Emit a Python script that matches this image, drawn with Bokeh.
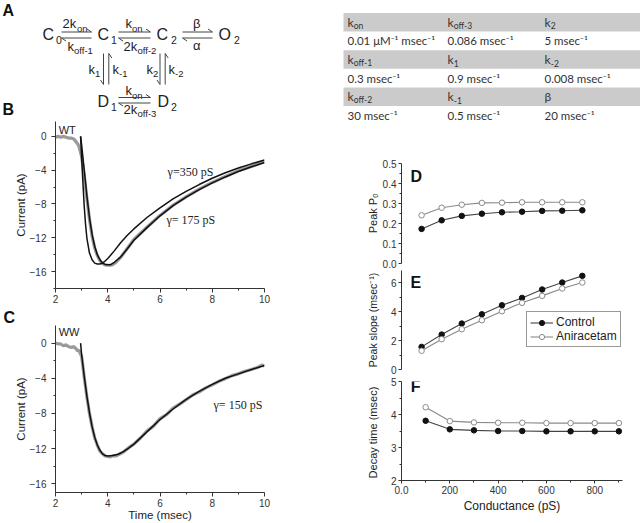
from bokeh.plotting import figure
from bokeh.layouts import column, row
from bokeh.models import Range1d, FixedTicker, Label, Legend, LegendItem
from bokeh.embed import file_html
from bokeh.resources import INLINE
from bokeh.core.properties import value

# ---------------- data ----------------
# Panel B (WT): grey = recorded trace, black = model (two conductances)
t_wt_data = [2.0, 2.1, 2.2, 2.3, 2.4, 2.5, 2.6, 2.7, 2.75, 2.8, 2.85, 2.9, 2.95, 3.0, 3.1, 3.2, 3.3,
             3.4, 3.5, 3.6, 3.7, 3.8, 3.9, 4.0, 4.1, 4.2, 4.3, 4.5, 5.0, 5.5, 6.0, 6.5, 7.0, 7.5,
             8.0, 8.5, 9.0, 9.5, 10.0]
i_wt_data = [-0.1, 0.0, -0.1, 0.0, -0.1, -0.2, -0.2, -0.3, -0.5, -0.7, -0.9, -1.2, -1.8, -2.4,
             -4.6, -7.3, -9.8, -11.8, -13.2, -14.1, -14.7, -15.05, -15.2, -15.25, -15.25, -15.15,
             -14.95, -14.3, -12.2, -10.75, -9.35, -8.15, -7.15, -6.25, -5.45, -4.75, -4.05, -3.55, -3.0]
t_wt_350 = [2.96, 3.0, 3.05, 3.1, 3.15, 3.2, 3.3, 3.4, 3.5, 3.6, 3.7, 3.8, 3.9, 4.0, 4.1, 4.25,
            4.5, 4.75, 5.0, 5.5, 6.0, 6.5, 7.0, 7.5, 8.0, 8.5, 9.0, 9.5, 10.0]
i_wt_350 = [0.0, -2.5, -5.5, -8.3, -10.4, -12.0, -13.8, -14.6, -15.0, -15.1, -15.1, -15.0, -14.75,
            -14.45, -14.1, -13.55, -12.55, -11.7, -10.95, -9.6, -8.45, -7.4, -6.5, -5.7, -4.95,
            -4.3, -3.75, -3.25, -2.8]
t_wt_175 = [2.96, 3.0, 3.1, 3.2, 3.3, 3.4, 3.5, 3.6, 3.7, 3.8, 3.9, 4.0, 4.1, 4.25, 4.5, 4.75,
            5.0, 5.5, 6.0, 6.5, 7.0, 7.5, 8.0, 8.5, 9.0, 9.5, 10.0]
i_wt_175 = [0.0, -1.0, -4.0, -7.0, -9.6, -11.6, -13.0, -14.0, -14.6, -15.0, -15.15, -15.2, -15.2,
            -14.9, -14.25, -13.3, -12.3, -10.8, -9.4, -8.2, -7.2, -6.3, -5.5, -4.8, -4.15, -3.6, -3.1]

# Panel C (WW)
t_ww_data = [2.0, 2.1, 2.2, 2.3, 2.4, 2.5, 2.6, 2.7, 2.8, 2.85, 2.9, 2.95, 3.0, 3.1, 3.2, 3.3, 3.4,
             3.5, 3.6, 3.7, 3.8, 3.9, 4.0, 4.1, 4.2, 4.3, 4.4, 4.6, 4.8, 5.0, 5.25, 5.5, 5.75, 6.0,
             6.25, 6.5, 6.75, 7.0, 7.25, 7.5, 7.75, 8.0, 8.25, 8.5, 8.75, 9.0, 9.25, 9.5, 9.75,
             9.9, 10.0]
i_ww_data = [0.0, -0.1, -0.1, -0.3, -0.2, -0.4, -0.5, -0.4, -0.7, -0.9, -0.8, -1.2, -1.5, -3.9,
             -6.1, -8.0, -9.5, -10.8, -11.6, -12.3, -12.6, -12.85, -12.9, -12.95, -12.8, -12.85,
             -12.7, -12.4, -11.9, -11.5, -10.8, -10.0, -9.45, -8.6, -8.15, -7.4, -6.95, -6.45,
             -5.9, -5.55, -5.1, -4.75, -4.35, -4.05, -3.7, -3.5, -3.2, -3.0, -2.75, -2.5, -2.6]
t_ww_fit = [2.96, 3.0, 3.1, 3.2, 3.3, 3.4, 3.5, 3.6, 3.7, 3.8, 3.9, 4.0, 4.2, 4.4, 4.6, 4.8, 5.0,
            5.5, 6.0, 6.5, 7.0, 7.5, 8.0, 8.5, 9.0, 9.5, 10.0]
i_ww_fit = [0.0, -1.3, -3.8, -6.0, -7.9, -9.5, -10.7, -11.6, -12.2, -12.6, -12.8, -12.85, -12.8,
            -12.65, -12.35, -11.95, -11.5, -10.1, -8.7, -7.5, -6.4, -5.5, -4.7, -4.0, -3.5, -3.0,
            -2.55]

# Panels D-F
conductance = [100, 200, 300, 400, 500, 600, 700, 800, 900]
po_control = [0.173, 0.216, 0.238, 0.249, 0.256, 0.259, 0.263, 0.264, 0.266]
po_anira = [0.241, 0.279, 0.294, 0.303, 0.304, 0.306, 0.306, 0.306, 0.306]
slope_control = [1.56, 2.41, 3.17, 3.81, 4.43, 4.94, 5.52, 6.00, 6.46]
slope_anira = [1.29, 2.09, 2.78, 3.40, 4.02, 4.60, 5.08, 5.59, 6.00]
decay_control = [3.81, 3.55, 3.52, 3.50, 3.50, 3.49, 3.49, 3.49, 3.49]
decay_anira = [4.22, 3.80, 3.76, 3.75, 3.75, 3.74, 3.74, 3.74, 3.74]
series_names = ["Control", "Aniracetam"]

# Rate-constant table (key|subscript, value)
tbl_keys = [["k|on", "k|off-3", "k|2"],
            ["k|off-1", "k|1", "k|-2"],
            ["k|off-2", "k|-1", "β|"]]
tbl_vals = [["0.01 μM⁻¹ msec⁻¹", "0.086 msec⁻¹", "5 msec⁻¹"],
            ["0.3 msec⁻¹", "0.9 msec⁻¹", "0.008 msec⁻¹"],
            ["30 msec⁻¹", "0.5 msec⁻¹", "20 msec⁻¹"]]

# Kinetic scheme texts
state_main = ["C", "C", "C", "O", "D", "D"]
state_sub = ["0", "1", "2", "2", "1", "2"]
rate_main = ["2k", "k", "k", "2k", "β", "α", "k", "k", "k", "k", "k", "2k"]
rate_sub = ["on", "off-1", "on", "off-2", "", "", "1", "-1", "2", "-2", "on", "off-3"]

# ---------------- helpers ----------------
FONT = "Liberation Sans"
INK = "#222222"
AX = "#333333"


def make_fig(w, h, xr, yr, bl, br, bt, bb, xaxis=True, yaxis=True):
    p = figure(width=w, height=h, x_range=xr, y_range=yr,
               output_backend="svg", toolbar_location=None,
               x_axis_location="below" if xaxis else None,
               y_axis_location="left" if yaxis else None,
               min_border_left=bl, min_border_right=br,
               min_border_top=bt, min_border_bottom=bb)
    p.outline_line_color = None
    p.background_fill_color = None
    p.border_fill_color = None
    p.grid.visible = False
    return p


def style_axis(ax, tick_size="10px", label_size="11.5px", tick_out=4, label_standoff=5,
               axis_standoff=5):
    ax.axis_line_color = AX
    ax.major_tick_line_color = AX
    ax.minor_tick_line_color = AX
    ax.major_tick_out = tick_out
    ax.major_tick_in = 0
    ax.minor_tick_out = 2
    ax.minor_tick_in = 0
    ax.major_label_text_font = FONT
    ax.major_label_text_font_size = tick_size
    ax.major_label_text_color = AX
    ax.major_label_standoff = label_standoff
    ax.axis_label_text_font = FONT
    ax.axis_label_text_font_size = label_size
    ax.axis_label_text_font_style = "normal"
    ax.axis_label_text_color = INK
    ax.axis_label_standoff = axis_standoff


def put_text(p, xs, ys, texts, size, align="left", font=FONT, style="normal", color=INK):
    p.text(x=xs, y=ys, text=texts, text_font=value(font), text_font_size=value(size),
           text_font_style=style, text_align=align, text_baseline="middle", text_color=color)


def letter(p, x, y, txt):
    p.add_layout(Label(x=x, y=y, text=txt, text_font=FONT, text_font_size="16px",
                       text_font_style="bold", text_color="#111111", text_align="left",
                       text_baseline="middle"))


W, H = 640, 523
LW = 325            # left block width
RW = W - LW         # right block width
TOP = 121           # height of the top strip (scheme + table)

# ---------------- Panel A: kinetic scheme ----------------
pA = make_fig(LW, TOP, Range1d(0, LW), Range1d(TOP, 0), 0, 0, 0, 0, xaxis=False, yaxis=False)
state_xy = [(42, 33.5), (97, 33.5), (156, 33.5), (218, 33.5), (97, 101), (157, 101)]
state_subx = [55.5, 110.5, 170.5, 233.5, 110.5, 170.5]
put_text(pA, [q[0] for q in state_xy], [q[1] for q in state_xy], state_main, "16px")
put_text(pA, state_subx, [q[1] + 5.5 for q in state_xy], state_sub, "10.5px")
rate_xy = [(62, 23), (67, 45.5), (125, 23), (123, 45.5), (192.5, 23), (192.5, 44.5),
           (88, 68.5), (112, 68.5), (146, 68.5), (168, 68.5), (125, 90), (123, 108.5)]
rate_subx = [76.5, 73.5, 131.5, 137, 0, 0, 94.5, 118.5, 152.5, 174.5, 131.5, 137]
put_text(pA, [q[0] for q in rate_xy], [q[1] for q in rate_xy], rate_main, "13px")
sx_, sy_, st_ = [], [], []
for (x, y), sx, s in zip(rate_xy, rate_subx, rate_sub):
    if s:
        sx_.append(sx)
        sy_.append(y + 4.5)
        st_.append(s)
put_text(pA, sx_, sy_, st_, "9.5px")
put_text(pA, [2, 2], [9.5, 108.5], ["A", "B"], "16px", style="bold", color="#111111")

# harpoon arrows (x0, y0, x1, y1, barb side)
arrows = [(61, 31.5, 91, 31.5, -1), (91, 37.5, 61, 37.5, 1),
          (118, 31.5, 150, 31.5, -1), (150, 37.5, 118, 37.5, 1),
          (182, 31.5, 212, 31.5, -1), (212, 37.5, 182, 37.5, 1),
          (118, 97, 150, 97, -1), (150, 102.5, 118, 102.5, 1),
          (103, 53, 103, 84, -1), (108.3, 84, 108.3, 53, 1),
          (159.5, 53, 159.5, 84, -1), (164.7, 84, 164.7, 53, 1)]
x0s, y0s, x1s, y1s = [], [], [], []
for (a, b, c, d, side) in arrows:
    x0s.append(a); y0s.append(b); x1s.append(c); y1s.append(d)
    L = ((c - a) ** 2 + (d - b) ** 2) ** 0.5
    ux, uy = (c - a) / L, (d - b) / L
    if uy == 0:
        bx, by = c - 4.5 * ux, d + side * 3
    else:
        bx, by = c + side * 3, d - 4.5 * uy
    x0s.append(c); y0s.append(d); x1s.append(bx); y1s.append(by)
pA.segment(x0=x0s, y0=y0s, x1=x1s, y1=y1s, line_color="#444444", line_width=1)

# ---------------- Table ----------------
pT = make_fig(RW, TOP, Range1d(LW, W), Range1d(TOP, 0), 0, 0, 0, 0, xaxis=False, yaxis=False)
pitch = 18.6
band_top = [12.5, 12.5 + 2 * pitch, 12.5 + 4 * pitch]
col_x = [347, 447, 544]
pT.quad(left=[343] * 3, right=[W] * 3, top=band_top, bottom=[b + pitch for b in band_top],
        fill_color="#cbcbcb", line_color=None)
kx, ky, kt, sxs, sys, sts, vx, vy, vt = [], [], [], [], [], [], [], [], []
for r in range(3):
    yc = band_top[r] + pitch / 2
    for c in range(3):
        main, sub = tbl_keys[r][c].split("|")
        kx.append(col_x[c]); ky.append(yc); kt.append(main)
        if sub:
            sxs.append(col_x[c] + 6.3); sys.append(yc + 3.5); sts.append(sub)
        vx.append(col_x[c]); vy.append(yc + pitch); vt.append(tbl_vals[r][c])
put_text(pT, kx, ky, kt, "12px", font="Lato", color="#333333")
put_text(pT, sxs, sys, sts, "8.5px", font="Lato", color="#333333")
put_text(pT, vx, vy, vt, "11.5px", font="Lato", color="#333333")

# ---------------- Panels B and C ----------------
B_BOT = 306
BL, BR = 55, LW - 264
pB = make_fig(LW, B_BOT - TOP, Range1d(2, 10), Range1d(-18, 1.76), BL, BR, 0, B_BOT - 288)
pB.line(t_wt_data, i_wt_data, line_color="#9a9a9a", line_width=3.2)
pB.line(t_wt_350, i_wt_350, line_color="#111111", line_width=1.5)
pB.line(t_wt_175, i_wt_175, line_color="#111111", line_width=1.5)
pB.text(x=[6.29, 6.25], y=[-4.2, -9.9], text=["γ=350  pS", "γ= 175 pS"],
        text_font=value("Liberation Serif"), text_font_size=value("12px"),
        text_baseline="middle", text_color=INK)
pB.add_layout(Label(x=2.12, y=0.8, text="WT", text_font=FONT, text_font_size="11px",
                    text_color=INK, text_baseline="middle"))

pC = make_fig(LW, H - B_BOT, Range1d(2, 10), Range1d(-17, 2), BL, BR, 325 - B_BOT, H - 493)
pC.line(t_ww_data, i_ww_data, line_color="#9a9a9a", line_width=3.2)
pC.line(t_ww_fit, i_ww_fit, line_color="#111111", line_width=1.5)
pC.text(x=[8.05], y=[-7.05], text=["γ= 150 pS"], text_font=value("Liberation Serif"),
        text_font_size=value("12px"), text_baseline="middle", text_color=INK)
pC.add_layout(Label(x=2.12, y=1.3, text="WW", text_font=FONT, text_font_size="11px",
                    text_color=INK, text_baseline="middle"))
# panel letter "C" as the figure title, pulled left of the frame
pC.title.text = "C"
pC.title.align = "left"
pC.title.offset = 3 - BL
pC.title.standoff = 0
pC.title.vertical_align = "bottom"
pC.title.text_font = FONT
pC.title.text_font_size = "16px"
pC.title.text_font_style = "bold"
pC.title.text_color = "#111111"

for p, ymin in ((pB, -18), (pC, -17)):
    p.yaxis.ticker = FixedTicker(ticks=[-16, -12, -8, -4, 0],
                                 minor_ticks=[v for v in (-18, -14, -10, -6, -2) if v >= ymin])
    p.xaxis.ticker = FixedTicker(ticks=[2, 4, 6, 8, 10], minor_ticks=[3, 5, 7, 9])
    p.yaxis.axis_label = "Current (pA)"
    style_axis(p.yaxis[0], label_standoff=5, axis_standoff=0)
    style_axis(p.xaxis[0], label_standoff=2, axis_standoff=-1)
pC.xaxis.axis_label = "Time (msec)"

# ---------------- Panels D, E, F ----------------
D_BOT = 270
E_BOT = 375
bl_r = 401 - LW
br_r = W - 622
pD = make_fig(RW, D_BOT - TOP, Range1d(0, 1100), Range1d(0, 0.5), bl_r, br_r,
              163 - TOP, D_BOT - 263, xaxis=False)
pE = make_fig(RW, E_BOT - D_BOT, Range1d(0, 1100), Range1d(0, 6.83), bl_r, br_r,
              0, 6, xaxis=False)
pF = make_fig(RW, H - E_BOT, Range1d(0, 915), Range1d(2, 5), bl_r, br_r, 6, H - 480)

CTRL_LINE, ANI_LINE = "#444444", "#8a8a8a"
legend_rs = None
for p, yc, ya in ((pD, po_control, po_anira), (pE, slope_control, slope_anira),
                  (pF, decay_control, decay_anira)):
    l1 = p.line(conductance, yc, line_color=CTRL_LINE, line_width=1.1)
    s1 = p.scatter(conductance, yc, size=5.5, fill_color="#111111", line_color="#111111")
    l2 = p.line(conductance, ya, line_color=ANI_LINE, line_width=1.1)
    s2 = p.scatter(conductance, ya, size=5.5, fill_color="white", line_color="#8a8a8a",
                   line_width=1)
    if p is pE:
        legend_rs = ((l1, s1), (l2, s2))

leg = Legend(items=[LegendItem(label=series_names[0], renderers=list(legend_rs[0])),
                    LegendItem(label=series_names[1], renderers=list(legend_rs[1]))],
             location=(125, 22))
leg.border_line_color = "#333333"
leg.border_line_width = 1
leg.background_fill_color = "white"
leg.background_fill_alpha = 1
leg.label_text_font = FONT
leg.label_text_font_size = "12px"
leg.label_text_color = INK
leg.padding = 3
leg.spacing = 0
leg.margin = 0
leg.glyph_width = 23
leg.glyph_height = 13
leg.label_height = 13
leg.label_standoff = 3
pE.add_layout(leg)

pD.yaxis.ticker = FixedTicker(ticks=[0.0, 0.1, 0.2, 0.3, 0.4, 0.5],
                              minor_ticks=[0.05, 0.15, 0.25, 0.35, 0.45])
pD.yaxis.major_label_overrides = {0: "0.0"}
pE.yaxis.ticker = FixedTicker(ticks=[0, 2, 4, 6], minor_ticks=[1, 3, 5])
pF.yaxis.ticker = FixedTicker(ticks=[2, 3, 4, 5], minor_ticks=[2.5, 3.5, 4.5])
pF.xaxis.ticker = FixedTicker(ticks=[0, 200, 400, 600, 800], minor_ticks=[100, 300, 500, 700, 900])
pF.xaxis.major_label_overrides = {0: "0.0"}
pD.yaxis.axis_label = "Peak Pₒ"
pE.yaxis.axis_label = "Peak slope (msec⁻¹)"
pF.yaxis.axis_label = "Decay time  (msec)"
pF.xaxis.axis_label = "Conductance (pS)"
style_axis(pD.yaxis[0], tick_size="10px", label_size="11px", tick_out=3, label_standoff=2,
           axis_standoff=1)
style_axis(pE.yaxis[0], tick_size="10px", label_size="10.5px", tick_out=3, label_standoff=2,
           axis_standoff=9)
style_axis(pF.yaxis[0], tick_size="10px", label_size="11px", tick_out=3, label_standoff=2,
           axis_standoff=9)
style_axis(pF.xaxis[0], tick_size="10px", label_size="12px", tick_out=3, label_standoff=2,
           axis_standoff=2)

letter(pD, 45, 0.434, "D")
letter(pE, 45, 6.0, "E")
letter(pF, 38, 4.85, "F")

top = row(pA, pT, spacing=0)
bottom = row(column(pB, pC, spacing=0), column(pD, pE, pF, spacing=0), spacing=0)
layout = column(top, bottom, spacing=0)

open("out.html", "w").write(file_html(layout, INLINE))
